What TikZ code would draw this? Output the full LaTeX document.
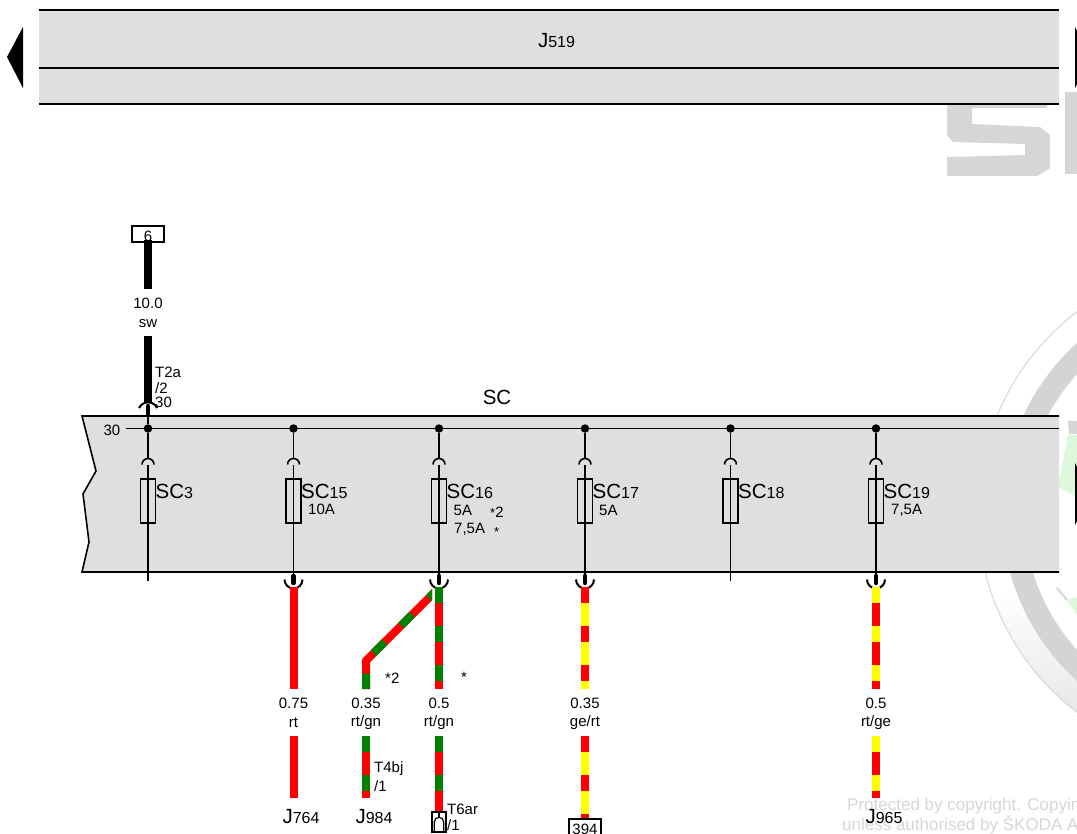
\documentclass[tikz,border=0pt]{standalone}
\usepackage{fontspec}
\setmainfont{Liberation Sans}
\definecolor{panelgray}{HTML}{DFDFDF}
\definecolor{wred}{HTML}{FF0000}
\definecolor{wgreen}{HTML}{008000}
\definecolor{wyellow}{HTML}{FFFF00}
\definecolor{markgray}{HTML}{D6D6D6}
\definecolor{ringgray}{HTML}{D4D4D4}
\definecolor{ringlight}{HTML}{E6E6E6}
\definecolor{markgreen}{HTML}{DDF8DA}
\tikzset{
  lbl/.style={inner sep=0pt,font=\fontsize{15}{15}\selectfont},
  lblw/.style={lbl,anchor=west},
  bigl/.style={lbl,anchor=west,font=\fontsize{20.5}{20}\selectfont},
  fusebox/.style={draw,line width=1.6pt,minimum width=15pt,minimum height=44pt,inner sep=0pt},
  pinbox/.style={draw,line width=1.6pt,inner sep=0pt,fill=white},
  thin line/.style={line width=1.6pt},
  plugarc/.style={line width=2pt},
  dot/.style={circle,fill=black,inner sep=0pt,minimum size=8.5pt},
  wire/.style={line width=8pt},
  wirert/.style={wire,draw=wred},
  wiresw/.style={wire,draw=black},
  wirergn/.style={wire,draw=wred,postaction={draw=wgreen,dash pattern=on 15.5pt off 23.5pt}},
  wirery/.style={wire,draw=wyellow,postaction={draw=wred,dash pattern=on 15.5pt off 23.5pt}},
  wireyr/.style={wire,draw=wred,postaction={draw=wyellow,dash pattern=on 15.5pt off 23.5pt}},
}
\newcommand{\sublabel}[2]{{\fontsize{20.5}{20}\selectfont #1}{\fontsize{16}{16}\selectfont #2}}
\begin{document}
\begin{tikzpicture}[x=1pt,y=-1pt]
  \useasboundingbox (0,0) rectangle (1077,834);
  \begin{scope}
    \clip (0,0) rectangle (1077,834);
    % watermark
    \begin{scope}[even odd rule]
      \clip (1230,512) circle (252pt) (1230,512) circle (228pt);
      \shade[top color=white,bottom color=ringlight] (977,590) rectangle (1077,720);
    \end{scope}
    \draw[markgray,line width=1pt] (1230,512) circle (252pt);
    \fill[ringgray,even odd rule] (1230,512) circle (228pt) (1230,512) circle (206pt);
    \fill[markgreen] (1068,435) -- (1077,435) -- (1077,497) -- (1058,487) -- cycle;
    \fill[markgray] (1068,421) -- (1077,421) -- (1077,434) -- (1069,434) -- cycle;
    \fill[markgreen] (1067,600) -- (1077,597) -- (1077,615) -- cycle;
    \draw[markgray,line width=2pt] (1057,588) -- (1067,600);
    \fill[markgray] (947,104) -- (947,135) -- (953,142) -- (1025,144) -- (1025,155) -- (947,157)
      -- (947,176) -- (1037,176) -- (1050,168) -- (1050,135) -- (1040,127) -- (972,124)
      -- (972,108) -- (1047,108) -- (1047,104) -- cycle;
    \fill[markgray] (1065,92) rectangle (1077,174);
    \node[lblw,text=markgray,font=\fontsize{17}{17}\selectfont] (copyone) at (847,806) {Protected by copyright. Copyin};
    \node[lblw,text=markgray,font=\fontsize{17}{17}\selectfont] (copytwo) at (842,825) {unless authorised by ŠKODA A};
    % arrows at the edges
    \fill (7,57) -- (23,27) -- (23,88) -- cycle;
    \fill (1091,57) -- (1075,27) -- (1075,88) -- cycle;
    \fill (1091,494) -- (1075,463) -- (1075,525) -- cycle;
    % top panel
    \fill[panelgray] (39,10) rectangle (1059,104);
    \draw[thin line] (39,10) -- (1059,10) (39,68) -- (1059,68) (39,104) -- (1059,104);
    \node[lbl] (jtop) at (556.5,41) {\sublabel{J}{519}};
    % fuse panel
    \fill[panelgray] (82,416) -- (1059,416) -- (1059,572) -- (82,572) -- (89,542) -- (83,494) -- (96,471) -- cycle;
    \draw[thin line] (1059,416) -- (82,416) -- (96,471) -- (83,494) -- (89,542) -- (82,572) -- (1059,572);
    \node[lbl] (busname) at (497,397) {\fontsize{20.5}{20}\selectfont SC};
    \node[lbl] (busnum) at (112,430) {30};
    \coordinate (busl) at (126,428.5);
    \coordinate (busr) at (1059,428.5);
    \draw[thin line] (busl) -- (busr);
    \foreach \fname/\xpos/\fnum in {a/148/3,b/293.5/15,c/439/16,d/585/17,e/730.5/18,f/876/19}{
      \node[dot] (dot\fname) at (\xpos,428.5) {};
      \node[fusebox] (fuse\fname) at (\xpos,501) {};
      \coordinate (arc\fname) at (\xpos,459);
      \coordinate (low\fname) at (\xpos,465);
      \coordinate (end\fname) at (\xpos,581);
      \draw[thin line] (dot\fname) -- (arc\fname);
      \draw[thin line] (low\fname) -- (end\fname);
      \draw[thin line] (\xpos-6,464.5) arc[start angle=180,end angle=0,radius=6pt];
      \node[bigl] (sc\fname) at (\xpos+7.5,491) {\sublabel{SC}{\fnum}};
    }
    \node[lblw] (ampb) at (308,509.5) {10A};
    \node[lblw] (ampc) at (453.5,510) {5A};
    \node[lblw] (ampcc) at (454,529.5) {7,5A};
    \node[lblw] (starc) at (490,512) {\fontsize{13}{13}\selectfont *\fontsize{15}{15}\selectfont 2};
    \node[lblw] (starcc) at (494,532) {\fontsize{13}{13}\selectfont *};
    \node[lblw] (ampd) at (599,510) {5A};
    \node[lblw] (ampf) at (891,510) {7,5A};
    % feed
    \node[pinbox,minimum width=32pt,minimum height=16pt] (pin) at (148,234) {};
    \node[lbl] (pintext) at (148,236) {6};
    \node[lbl] (feedsize) at (148,303) {10.0};
    \node[lbl] (feedcol) at (148,324) {sw};
    \coordinate (feeda) at (148,240);
    \coordinate (feedb) at (148,289);
    \coordinate (feedc) at (148,336);
    \coordinate (feedd) at (148,402);
    \coordinate (plugtop) at (148,404);
    \draw[wiresw] (feeda) -- (feedb);
    \draw[wiresw] (feedc) -- (feedd);
    \draw[plugarc] (139,408) arc[start angle=155,end angle=25,radius=10pt];
    \draw[line width=4.5pt,line cap=round] (plugtop)++(0,2) -- +(0,8);
    \draw[thin line] (plugtop) -- (dota);
    \node[lblw] (ta) at (155,372) {T2a};
    \node[lblw] (tb) at (155,388) {/2};
    \node[lblw] (tc) at (155,402.5) {30};
    % plugs under the panel
    \foreach \fname/\xpos in {b/293.5,c/439,d/585,f/876}{
      \draw[plugarc] (\xpos-9,579.5) arc[start angle=180,end angle=360,radius=9pt];
      \draw[line width=4.5pt,line cap=round] (\xpos,576) -- (\xpos,583);
    }
    % wires
    \node[lbl] (sizeb) at (293.5,703) {0.75};
    \node[lbl] (colb) at (293.5,722.5) {rt};
    \node[lbl] (jb) at (301,817) {\sublabel{J}{764}};
    \node[lbl] (sizek) at (366,703) {0.35};
    \node[lbl] (colk) at (366,722.5) {rt/gn};
    \node[lbl] (jk) at (374,817) {\sublabel{J}{984}};
    \node[lbl] (sizec) at (439,703) {0.5};
    \node[lbl] (colc) at (439,722.5) {rt/gn};
    \node[lbl] (sized) at (585,703) {0.35};
    \node[lbl] (cold) at (585,722.5) {ge/rt};
    \node[lbl] (sizef) at (876,703) {0.5};
    \node[lbl] (colf) at (876,722.5) {rt/ge};
    \node[lbl] (jf) at (884,817) {\sublabel{J}{965}};
    \node[lblw] (tkb) at (374,769) {T4bj};
    \node[lblw] (tkc) at (374,786) {/1};
    \node[lblw] (tca) at (447,809) {T6ar};
    \node[lblw] (tcb) at (447,825) {/1};
    \node[lblw] (stark) at (385,678) {*2};
    \node[lblw] (starj) at (461,677) {*};
    \coordinate (bup) at (293.5,587);  \coordinate (bupe) at (293.5,689);
    \coordinate (blo) at (293.5,736);  \coordinate (bloe) at (293.5,798);
    \coordinate (cup) at (439,587);    \coordinate (cupe) at (439,689);
    \coordinate (clo) at (439,736);    \coordinate (cloe) at (439,813);
    \coordinate (dup) at (585,587);    \coordinate (dupe) at (585,689);
    \coordinate (dlo) at (585,736);    \coordinate (bpin) at (585,820);
    \coordinate (fup) at (876,587);    \coordinate (fupe) at (876,689);
    \coordinate (flo) at (876,736);    \coordinate (floe) at (876,798);
    \coordinate (klo) at (366,736);    \coordinate (kloe) at (366,798);
    \coordinate (kbot) at (366,689);   \coordinate (kcorn) at (366,660.7);
    \coordinate (ktop) at (436,590.7);
    \draw[wirert] (bup) -- (bupe);
    \draw[wirert] (blo) -- (bloe);
    \draw[wirergn] (cup) -- (cupe);
    \draw[wirergn] (clo) -- (cloe);
    \draw[wirery] (dup) -- (dupe);
    \draw[wirery] (dlo) -- (bpin);
    \draw[wireyr] (fup) -- (fupe);
    \draw[wireyr] (flo) -- (floe);
    \draw[wirergn] (klo) -- (kloe);
    \begin{scope}
      \clip (350,580) rectangle (432,700);
      \draw[wirergn] (kbot) -- (kcorn) -- (ktop);
    \end{scope}
    % connector ends
    \node[pinbox,minimum width=14pt,minimum height=20pt] (pinc) at (439,822) {};
    \coordinate (pincin) at (439,817);
    \draw[line width=1.2pt] (pinc.north) -- (pincin);
    \draw[line width=1.2pt] (434.3,832) -- (434.3,822) arc[start angle=180,end angle=0,radius=4.7pt] -- (443.7,832);
    \node[pinbox,minimum width=32pt,minimum height=22pt] (pind) at (585,830) {};
    \node[lbl] (pindtext) at (585,829) {394};
  \end{scope}
\end{tikzpicture}
\end{document}
